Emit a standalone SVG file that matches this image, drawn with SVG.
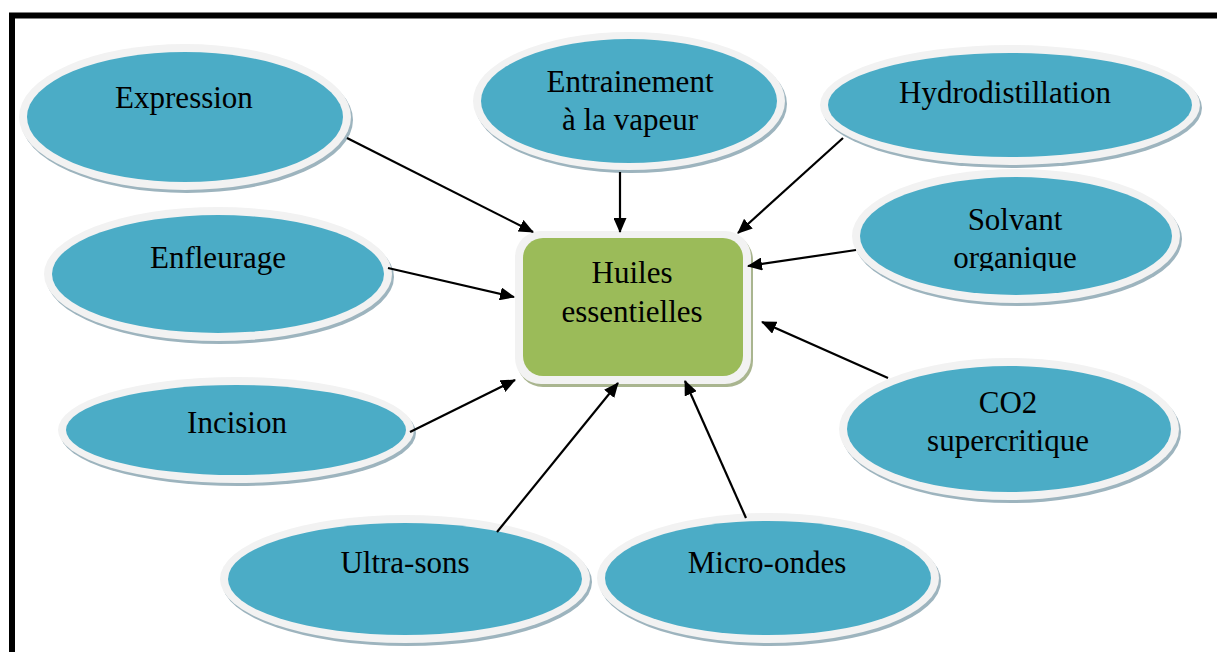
<svg xmlns="http://www.w3.org/2000/svg" width="1217" height="652" viewBox="0 0 1217 652">
<style>
.sh{fill:#9DB4BE}
.ring{fill:#F2F2F2}
.blue{fill:#4BACC6}
.t{font-family:"Liberation Serif","Times New Roman",serif;font-size:31px;fill:#000;text-anchor:middle}
.conn line{stroke:#000;stroke-width:2.2;marker-end:url(#ah)}
</style>
<defs>
<marker id="ah" viewBox="0 0 15 13" refX="14" refY="6.5" markerWidth="15" markerHeight="13" markerUnits="userSpaceOnUse" orient="auto">
<path d="M0,0 L15,6.5 L0,13 z" fill="#000"/>
</marker>
<clipPath id="clipSolv"><rect x="800" y="150" width="400" height="121"/></clipPath>
</defs>
<rect x="0" y="0" width="1217" height="652" fill="#fff"/>
<rect x="12" y="15.5" width="1260" height="700" fill="none" stroke="#000" stroke-width="6"/>

<g id="expression">
<ellipse class="sh" cx="187" cy="120" rx="166" ry="73"/>
<ellipse class="ring" cx="185" cy="117" rx="166" ry="73"/>
<ellipse class="blue" cx="185" cy="117" rx="158" ry="65"/>
<text class="t" x="184" y="108">Expression</text>
</g>

<g id="entrainement">
<ellipse class="sh" cx="631" cy="104" rx="156" ry="69"/>
<ellipse class="ring" cx="629" cy="101" rx="156" ry="69"/>
<ellipse class="blue" cx="629" cy="101" rx="148" ry="62"/>
<text class="t" x="630" y="92">Entrainement</text>
<text class="t" x="630" y="130">à la vapeur</text>
</g>

<g id="hydrodistillation">
<ellipse class="sh" cx="1012" cy="108" rx="190" ry="60"/>
<ellipse class="ring" cx="1010" cy="105" rx="190" ry="60"/>
<ellipse class="blue" cx="1010" cy="105" rx="182" ry="52"/>
<text class="t" x="1005" y="103">Hydrodistillation</text>
</g>

<g id="solvant">
<ellipse class="sh" cx="1018" cy="239" rx="164" ry="67"/>
<ellipse class="ring" cx="1016" cy="236" rx="164" ry="67"/>
<ellipse class="blue" cx="1016" cy="236" rx="156" ry="59"/>
<text class="t" x="1015" y="230">Solvant</text>
<text class="t" x="1015" y="268" clip-path="url(#clipSolv)">organique</text>
</g>

<g id="enfleurage">
<ellipse class="sh" cx="220" cy="277" rx="174" ry="67"/>
<ellipse class="ring" cx="218" cy="274" rx="174" ry="67"/>
<ellipse class="blue" cx="218" cy="274" rx="166" ry="59"/>
<text class="t" x="218" y="268">Enfleurage</text>
</g>

<g id="co2">
<ellipse class="sh" cx="1011" cy="432" rx="170" ry="71"/>
<ellipse class="ring" cx="1009" cy="429" rx="170" ry="71"/>
<ellipse class="blue" cx="1009" cy="429" rx="162" ry="63"/>
<text class="t" x="1008" y="413">CO2</text>
<text class="t" x="1008" y="451">supercritique</text>
</g>

<g id="incision">
<ellipse class="sh" cx="238" cy="433" rx="178" ry="53"/>
<ellipse class="ring" cx="236" cy="430" rx="178" ry="53"/>
<ellipse class="blue" cx="236" cy="430" rx="170" ry="45"/>
<text class="t" x="237" y="433">Incision</text>
</g>

<g id="ultrasons">
<ellipse class="sh" cx="407" cy="582" rx="185" ry="64"/>
<ellipse class="ring" cx="405" cy="579" rx="185" ry="64"/>
<ellipse class="blue" cx="405" cy="579" rx="177" ry="56"/>
<text class="t" x="405" y="573">Ultra-sons</text>
</g>

<g id="microondes">
<ellipse class="sh" cx="770" cy="581" rx="171" ry="65"/>
<ellipse class="ring" cx="768" cy="578" rx="171" ry="65"/>
<ellipse class="blue" cx="768" cy="578" rx="163" ry="57"/>
<text class="t" x="767" y="573">Micro-ondes</text>
</g>

<g id="huiles">
<rect x="517" y="234" width="236" height="153" rx="26" fill="#A9B58F"/>
<rect x="515" y="231" width="236" height="153" rx="26" fill="#F2F2F2"/>
<rect x="523" y="238" width="220" height="138" rx="20" fill="#9BBB59"/>
<text class="t" x="632" y="283">Huiles</text>
<text class="t" x="632" y="322">essentielles</text>
</g>

<g id="connectors" class="conn">
<line x1="347" y1="138" x2="533" y2="232"/>
<line x1="620" y1="172" x2="620" y2="232"/>
<line x1="843" y1="138" x2="738" y2="233"/>
<line x1="856" y1="250" x2="748" y2="266"/>
<line x1="388" y1="268" x2="514" y2="297"/>
<line x1="888" y1="378" x2="762" y2="322"/>
<line x1="410" y1="432" x2="515" y2="380"/>
<line x1="497" y1="532" x2="618" y2="383"/>
<line x1="746" y1="518" x2="685" y2="381"/>
</g>
</svg>
